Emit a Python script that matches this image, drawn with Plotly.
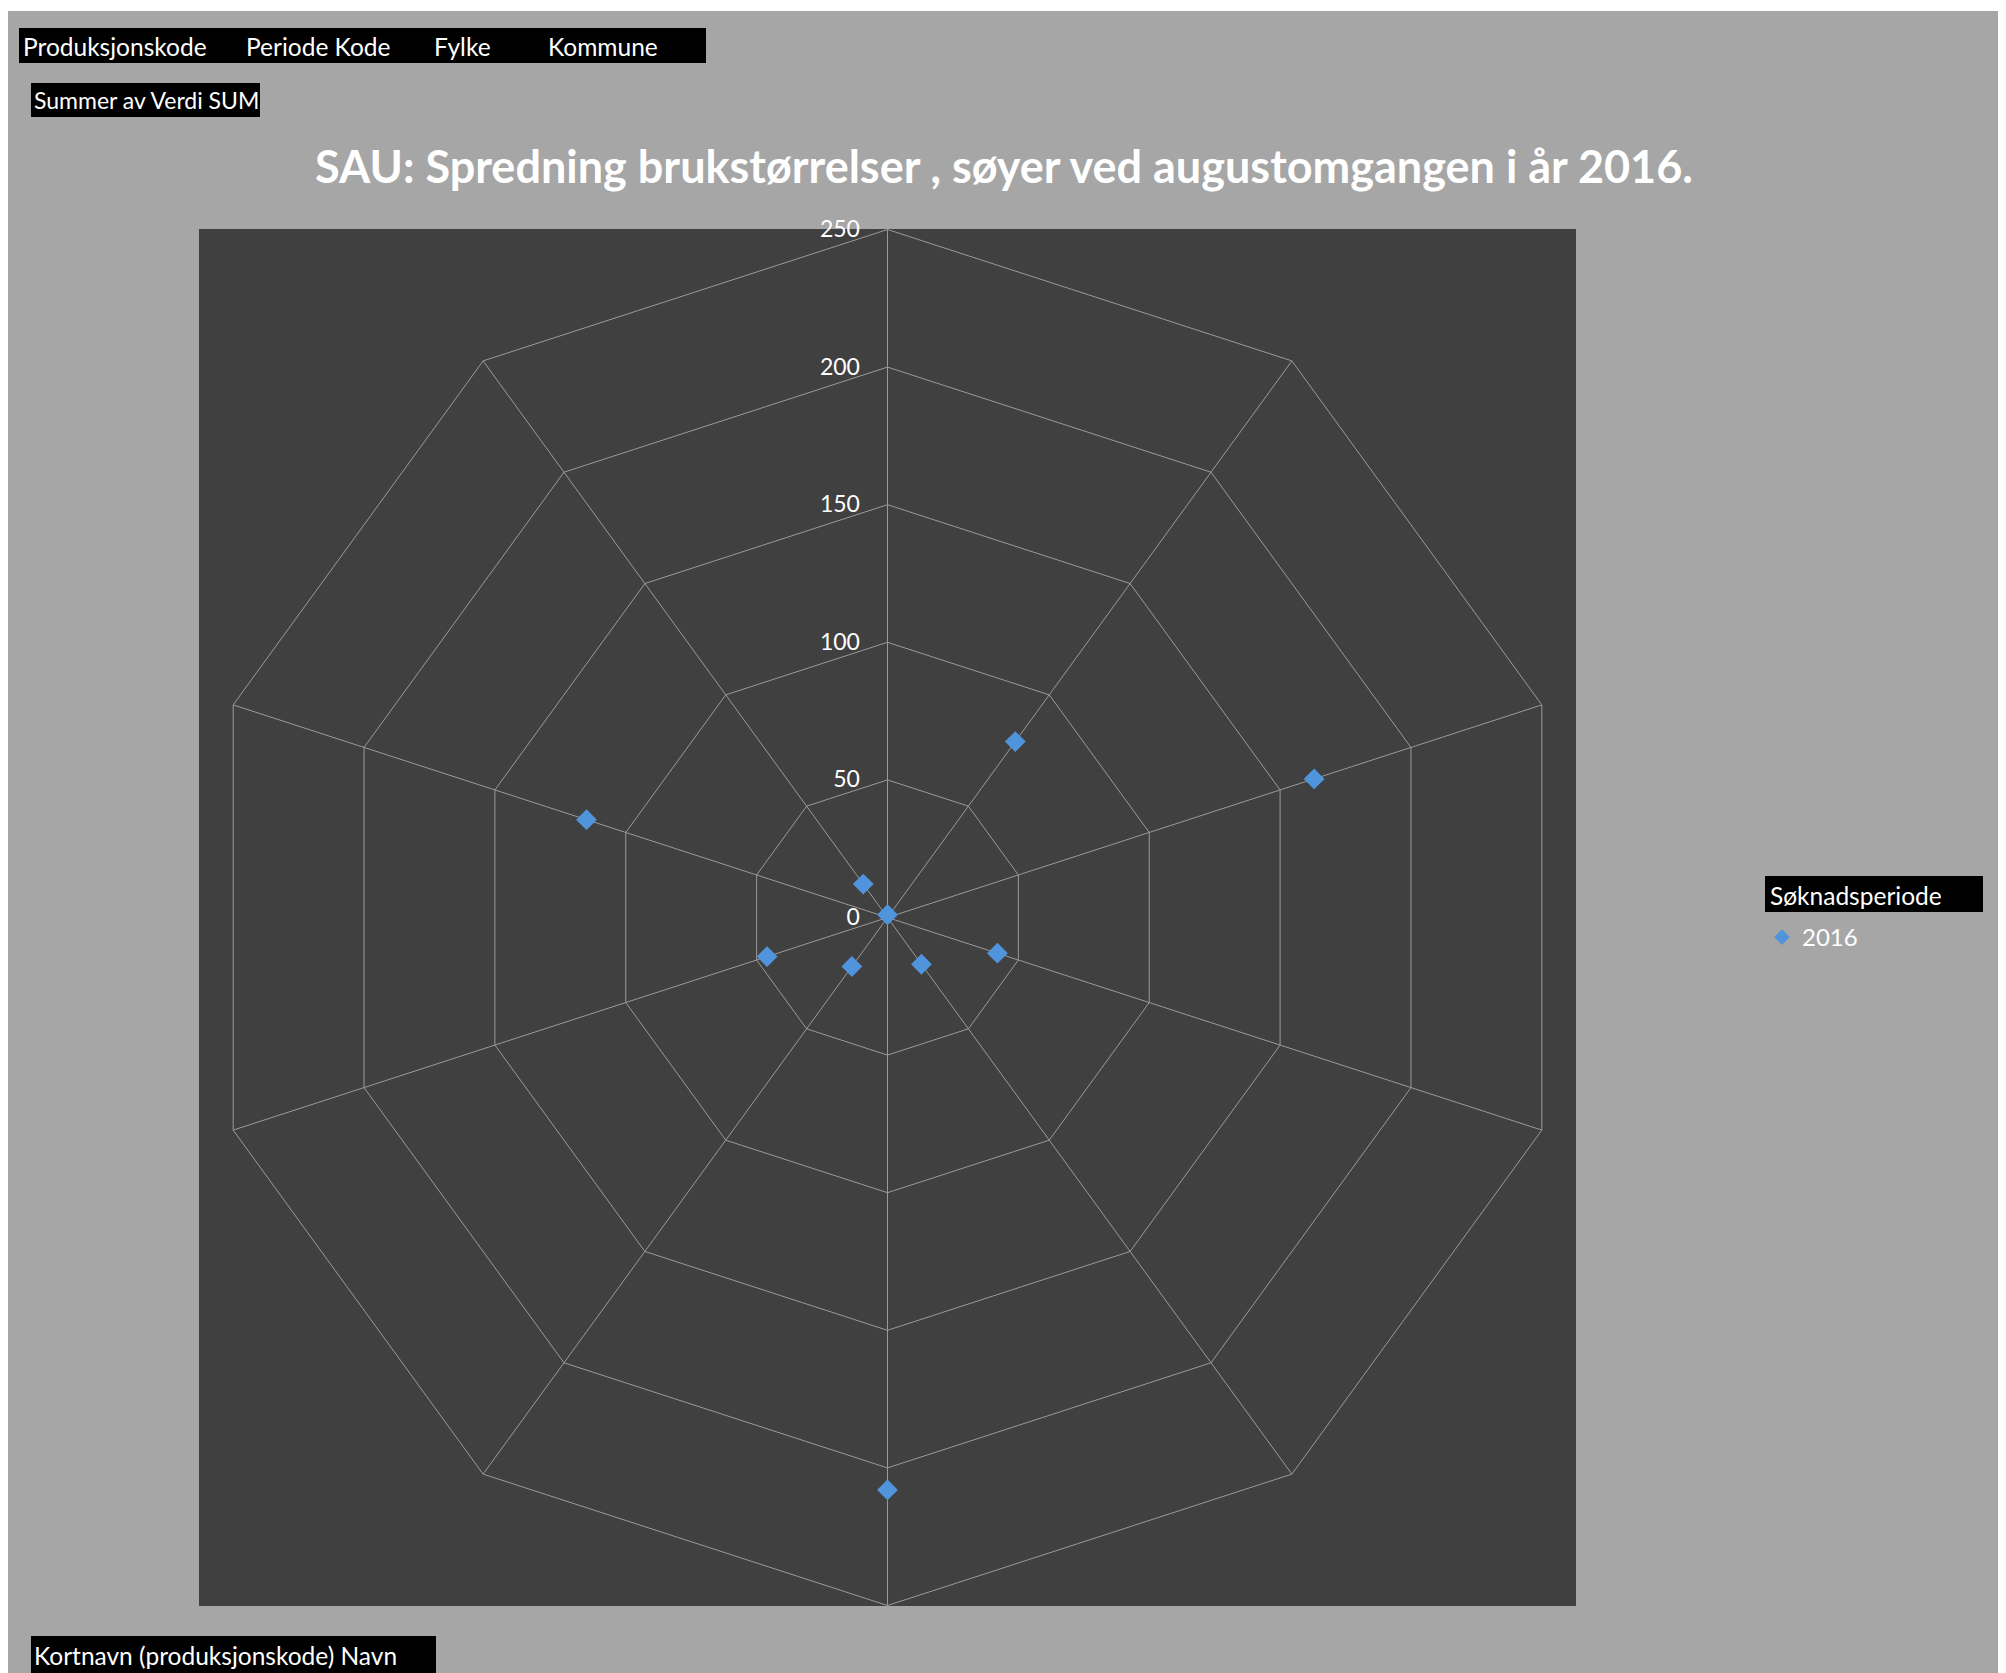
import plotly.graph_objects as go

W, H = 2006, 1673
OFF = 8  # page body margin offset

# Data
categories = ["1", "2", "3", "4", "5", "6", "7", "8", "9", "10"]
values_2016 = [1, 79, 163, 42, 21, 208, 22, 46, 115, 15]
radial_ticks = [0, 50, 100, 150, 200, 250]
series_name = "2016"

title_text = "SAU: Spredning brukstørrelser , søyer ved augustomgangen i år 2016."
filter_fields = ["Produksjonskode", "Periode Kode", "Fylke", "Kommune"]
value_field = "Summer av Verdi SUM"
axis_field = "Kortnavn (produksjonskode) Navn"
legend_field = "Søknadsperiode"

FONT = "Lato"
GRID = "#9a9a9a"
DARK = "#404040"
GRAY = "#a6a6a6"
BLUE = "#5094dc"


def px(x):
    return (x - OFF) / W


def py(y):
    return 1 - (y - OFF) / H


fig = go.Figure()

fig.add_trace(go.Scatterpolar(
    r=values_2016, theta=categories, mode="markers", name=series_name,
    marker=dict(symbol="diamond", size=16, color=BLUE, line=dict(width=0)),
    showlegend=True, cliponaxis=False,
))

shapes = [
    dict(type="rect", xref="paper", yref="paper", x0=px(7), x1=px(2000), y0=py(1700), y1=py(11),
         fillcolor=GRAY, line=dict(width=0), layer="below"),
    dict(type="rect", xref="paper", yref="paper", x0=px(199), x1=px(1576), y0=py(1606), y1=py(229),
         fillcolor=DARK, line=dict(width=0), layer="below"),
    dict(type="rect", xref="paper", yref="paper", x0=px(19), x1=px(706), y0=py(63), y1=py(28),
         fillcolor="black", line=dict(width=0), layer="below"),
    dict(type="rect", xref="paper", yref="paper", x0=px(31), x1=px(260), y0=py(117), y1=py(83),
         fillcolor="black", line=dict(width=0), layer="below"),
    dict(type="rect", xref="paper", yref="paper", x0=px(31), x1=px(436), y0=py(1673), y1=py(1636),
         fillcolor="black", line=dict(width=0), layer="below"),
    dict(type="rect", xref="paper", yref="paper", x0=px(1765), x1=px(1983), y0=py(912), y1=py(876),
         fillcolor="black", line=dict(width=0), layer="below"),
]

annotations = []
for label, x in zip(filter_fields, [21, 244, 432, 546]):
    annotations.append(dict(text=label, x=px(x), y=py(46), xref="paper", yref="paper",
                            xanchor="left", yanchor="middle", showarrow=False,
                            font=dict(family=FONT, size=24.5, color="white")))
annotations.append(dict(text=value_field, x=px(32), y=py(100), xref="paper", yref="paper",
                        xanchor="left", yanchor="middle", showarrow=False,
                        font=dict(family=FONT, size=23, color="white")))
annotations.append(dict(text=axis_field, x=px(32), y=py(1655), xref="paper", yref="paper",
                        xanchor="left", yanchor="middle", showarrow=False,
                        font=dict(family=FONT, size=24.5, color="white")))
annotations.append(dict(text=legend_field, x=px(1768), y=py(895), xref="paper", yref="paper",
                        xanchor="left", yanchor="middle", showarrow=False,
                        font=dict(family=FONT, size=24.5, color="white")))
annotations.append(dict(text=f"<b>{title_text}</b>", x=px(1004), y=py(166), xref="paper", yref="paper",
                        xanchor="center", yanchor="middle", showarrow=False,
                        font=dict(family=FONT, size=45, color="white")))

fig.update_layout(
    width=W, height=H,
    margin=dict(l=0, r=0, t=0, b=0),
    paper_bgcolor="white",
    plot_bgcolor="white",
    shapes=shapes,
    annotations=annotations,
    polar=dict(
        domain=dict(x=[px(199.5), px(1575.5)], y=[py(1605.5), py(229.5)]),
        bgcolor=DARK,
        gridshape="linear",
        angularaxis=dict(
            direction="clockwise", rotation=90, type="category",
            categoryorder="array", categoryarray=categories,
            showticklabels=False, ticks="",
            showgrid=True, gridcolor=GRID, gridwidth=1,
            showline=True, linecolor=GRID, linewidth=1,
        ),
        radialaxis=dict(
            range=[0, 250], tickvals=radial_ticks,
            ticks="outside", ticklen=19, tickcolor="rgba(0,0,0,0)",
            angle=90, tickangle=90, side="counterclockwise",
            showticklabels=True,
            tickfont=dict(family=FONT, size=23, color="white"),
            showgrid=True, gridcolor=GRID, gridwidth=1,
            showline=False,
        ),
    ),
    legend=dict(
        x=px(1762), y=py(915), xanchor="left", yanchor="top",
        bgcolor="rgba(0,0,0,0)", font=dict(family=FONT, size=24, color="white"),
        itemsizing="constant",
    ),
)

fig.write_html("out.html")
